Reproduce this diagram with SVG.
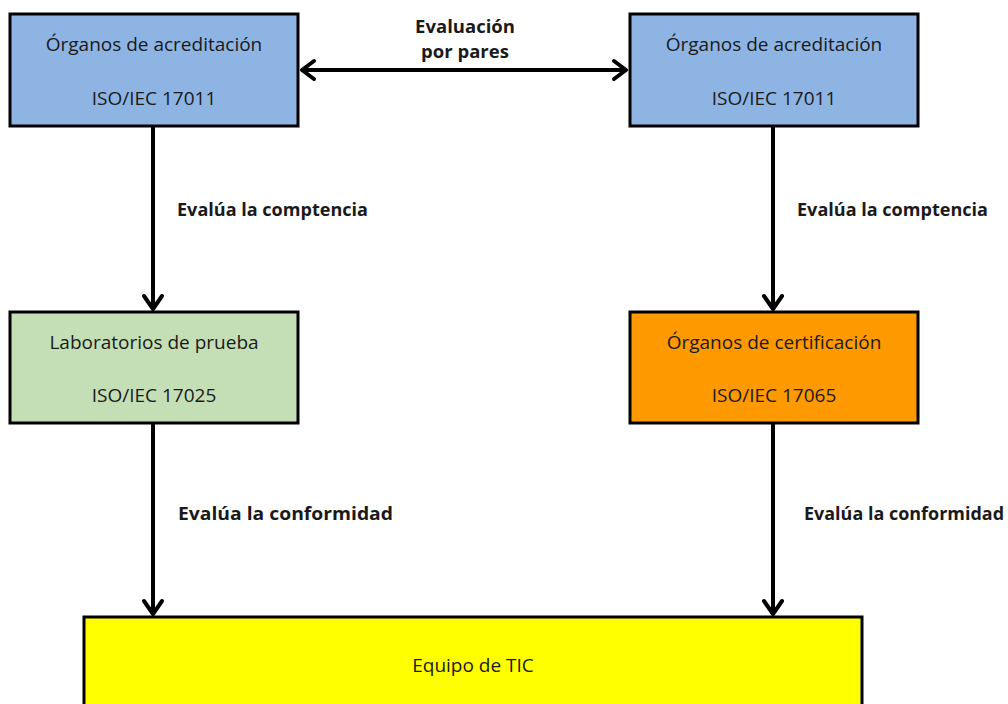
<svg xmlns="http://www.w3.org/2000/svg" width="1008" height="704" viewBox="0 0 1008 704">
  <defs>
    <style>
      .box { stroke: #000; stroke-width: 3; }
      .blue { fill: #8EB4E3; }
      .green { fill: #C4DFB5; }
      .orange { fill: #FF9900; }
      .yellow { fill: #FFFF00; }
      .t { font-family: "Open Sans", "Liberation Sans", sans-serif; font-size: 19px; fill: #1a1a1a; text-anchor: middle; }
      .lbl { font-family: "Open Sans", "Liberation Sans", sans-serif; font-size: 18.5px; font-weight: bold; fill: #1a1a1a; }
      .conn { stroke: #000; stroke-width: 4; fill: none; }
      .head { stroke: #000; stroke-width: 4; fill: none; stroke-linecap: round; stroke-linejoin: round; }
    </style>
  </defs>
  <rect width="1008" height="704" fill="#fff"/>

  <g id="connectors">
    <!-- peer evaluation, double-headed -->
    <line class="conn" x1="302" y1="70" x2="626" y2="70"/>
    <polyline class="head" points="314,61 302,70 314,79"/>
    <polyline class="head" points="614,61 626,70 614,79"/>
    <!-- left column -->
    <line class="conn" x1="153" y1="126" x2="153" y2="309"/>
    <polyline class="head" points="144,296 153,309 162,296"/>
    <line class="conn" x1="153" y1="423" x2="153" y2="614"/>
    <polyline class="head" points="144,601 153,614 162,601"/>
    <!-- right column -->
    <line class="conn" x1="773" y1="126" x2="773" y2="309"/>
    <polyline class="head" points="764,296 773,309 782,296"/>
    <line class="conn" x1="773" y1="423" x2="773" y2="614"/>
    <polyline class="head" points="764,601 773,614 782,601"/>
    <text class="lbl" x="465" y="33" text-anchor="middle">Evaluación</text>
    <text class="lbl" x="465" y="58" text-anchor="middle">por pares</text>
    <text class="lbl" x="177" y="216" textLength="191" lengthAdjust="spacingAndGlyphs">Evalúa la comptencia</text>
    <text class="lbl" x="797" y="216" textLength="191" lengthAdjust="spacingAndGlyphs">Evalúa la comptencia</text>
    <text class="lbl" x="178" y="520" textLength="215" lengthAdjust="spacingAndGlyphs">Evalúa la conformidad</text>
    <text class="lbl" x="804" y="520" textLength="200" lengthAdjust="spacingAndGlyphs">Evalúa la conformidad</text>
  </g>

  <g id="acred-left">
    <rect class="box blue" x="10" y="14" width="288" height="112"/>
    <text class="t" x="154" y="51">Órganos de acreditación</text>
    <text class="t" x="154" y="105">ISO/IEC 17011</text>
  </g>
  <g id="acred-right">
    <rect class="box blue" x="630" y="14" width="288" height="112"/>
    <text class="t" x="774" y="51">Órganos de acreditación</text>
    <text class="t" x="774" y="105">ISO/IEC 17011</text>
  </g>
  <g id="laboratorios">
    <rect class="box green" x="10" y="312" width="288" height="111"/>
    <text class="t" x="154" y="349">Laboratorios de prueba</text>
    <text class="t" x="154" y="402">ISO/IEC 17025</text>
  </g>
  <g id="certificacion">
    <rect class="box orange" x="630" y="312" width="288" height="111"/>
    <text class="t" x="774" y="349">Órganos de certificación</text>
    <text class="t" x="774" y="402">ISO/IEC 17065</text>
  </g>
  <g id="equipo-tic">
    <rect class="box yellow" x="84" y="617" width="778" height="100"/>
    <text class="t" x="473" y="672">Equipo de TIC</text>
  </g>
</svg>
